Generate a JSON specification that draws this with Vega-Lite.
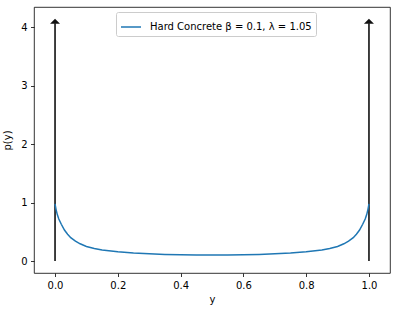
{
  "$schema": "https://vega.github.io/schema/vega-lite/v6.json",
  "width": 356,
  "height": 266,
  "autosize": {"type": "none"},
  "padding": {"left": 34, "top": 7, "right": 8, "bottom": 38},
  "config": {
    "font": "DejaVu Sans",
    "view": {"stroke": "black", "strokeWidth": 0.8},
    "axis": {
      "domain": false,
      "grid": false,
      "tickColor": "black",
      "tickWidth": 0.8,
      "tickSize": 3.5,
      "labelFont": "DejaVu Sans",
      "labelFontSize": 10,
      "labelColor": "black",
      "labelPadding": 3.5,
      "titleFont": "DejaVu Sans",
      "titleFontSize": 10,
      "titleFontWeight": "normal",
      "titleColor": "black"
    }
  },
  "datasets": {
    "curve": [
      {"y": 0.0, "p": 0.98, "series": "Hard Concrete β = 0.1, λ = 1.05"},
      {"y": 0.003, "p": 0.89, "series": "Hard Concrete β = 0.1, λ = 1.05"},
      {"y": 0.007, "p": 0.80, "series": "Hard Concrete β = 0.1, λ = 1.05"},
      {"y": 0.012, "p": 0.72, "series": "Hard Concrete β = 0.1, λ = 1.05"},
      {"y": 0.02, "p": 0.63, "series": "Hard Concrete β = 0.1, λ = 1.05"},
      {"y": 0.03, "p": 0.53, "series": "Hard Concrete β = 0.1, λ = 1.05"},
      {"y": 0.04, "p": 0.46, "series": "Hard Concrete β = 0.1, λ = 1.05"},
      {"y": 0.05, "p": 0.40, "series": "Hard Concrete β = 0.1, λ = 1.05"},
      {"y": 0.065, "p": 0.34, "series": "Hard Concrete β = 0.1, λ = 1.05"},
      {"y": 0.08, "p": 0.295, "series": "Hard Concrete β = 0.1, λ = 1.05"},
      {"y": 0.1, "p": 0.25, "series": "Hard Concrete β = 0.1, λ = 1.05"},
      {"y": 0.125, "p": 0.215, "series": "Hard Concrete β = 0.1, λ = 1.05"},
      {"y": 0.15, "p": 0.19, "series": "Hard Concrete β = 0.1, λ = 1.05"},
      {"y": 0.2, "p": 0.157, "series": "Hard Concrete β = 0.1, λ = 1.05"},
      {"y": 0.25, "p": 0.137, "series": "Hard Concrete β = 0.1, λ = 1.05"},
      {"y": 0.3, "p": 0.123, "series": "Hard Concrete β = 0.1, λ = 1.05"},
      {"y": 0.35, "p": 0.113, "series": "Hard Concrete β = 0.1, λ = 1.05"},
      {"y": 0.4, "p": 0.107, "series": "Hard Concrete β = 0.1, λ = 1.05"},
      {"y": 0.45, "p": 0.103, "series": "Hard Concrete β = 0.1, λ = 1.05"},
      {"y": 0.5, "p": 0.102, "series": "Hard Concrete β = 0.1, λ = 1.05"},
      {"y": 0.55, "p": 0.103, "series": "Hard Concrete β = 0.1, λ = 1.05"},
      {"y": 0.6, "p": 0.107, "series": "Hard Concrete β = 0.1, λ = 1.05"},
      {"y": 0.65, "p": 0.113, "series": "Hard Concrete β = 0.1, λ = 1.05"},
      {"y": 0.7, "p": 0.123, "series": "Hard Concrete β = 0.1, λ = 1.05"},
      {"y": 0.75, "p": 0.137, "series": "Hard Concrete β = 0.1, λ = 1.05"},
      {"y": 0.8, "p": 0.157, "series": "Hard Concrete β = 0.1, λ = 1.05"},
      {"y": 0.85, "p": 0.19, "series": "Hard Concrete β = 0.1, λ = 1.05"},
      {"y": 0.875, "p": 0.215, "series": "Hard Concrete β = 0.1, λ = 1.05"},
      {"y": 0.9, "p": 0.25, "series": "Hard Concrete β = 0.1, λ = 1.05"},
      {"y": 0.92, "p": 0.295, "series": "Hard Concrete β = 0.1, λ = 1.05"},
      {"y": 0.935, "p": 0.34, "series": "Hard Concrete β = 0.1, λ = 1.05"},
      {"y": 0.95, "p": 0.40, "series": "Hard Concrete β = 0.1, λ = 1.05"},
      {"y": 0.96, "p": 0.46, "series": "Hard Concrete β = 0.1, λ = 1.05"},
      {"y": 0.97, "p": 0.53, "series": "Hard Concrete β = 0.1, λ = 1.05"},
      {"y": 0.98, "p": 0.63, "series": "Hard Concrete β = 0.1, λ = 1.05"},
      {"y": 0.988, "p": 0.72, "series": "Hard Concrete β = 0.1, λ = 1.05"},
      {"y": 0.993, "p": 0.80, "series": "Hard Concrete β = 0.1, λ = 1.05"},
      {"y": 0.997, "p": 0.89, "series": "Hard Concrete β = 0.1, λ = 1.05"},
      {"y": 1.0, "p": 0.98, "series": "Hard Concrete β = 0.1, λ = 1.05"}
    ],
    "arrows": [
      {"y": 0.0, "base": 0.0, "top": 4.07, "head": 4.105},
      {"y": 1.0, "base": 0.0, "top": 4.07, "head": 4.105}
    ]
  },
  "layer": [
    {
      "data": {"name": "arrows"},
      "mark": {"type": "rule", "color": "black", "strokeWidth": 1.5},
      "encoding": {
        "x": {"field": "y", "type": "quantitative", "scale": {"domain": [-0.067, 1.067], "nice": false, "zero": false},
              "axis": {"values": [0, 0.2, 0.4, 0.6, 0.8, 1.0], "format": ".1f", "title": "y", "titlePadding": 4}},
        "y": {"field": "base", "type": "quantitative", "scale": {"domain": [-0.205, 4.35], "nice": false, "zero": false},
              "axis": {"values": [0, 1, 2, 3, 4], "format": "d", "title": "p(y)", "titlePadding": 8}},
        "y2": {"field": "top"}
      }
    },
    {
      "data": {"name": "arrows"},
      "mark": {"type": "point", "shape": "M-1,0.5L0,-0.5L1,0.5Z", "size": 100, "filled": true, "color": "#111111", "opacity": 1},
      "encoding": {
        "x": {"field": "y", "type": "quantitative"},
        "y": {"field": "head", "type": "quantitative"}
      }
    },
    {
      "data": {"name": "curve"},
      "mark": {"type": "line", "strokeWidth": 1.5},
      "encoding": {
        "x": {"field": "y", "type": "quantitative"},
        "y": {"field": "p", "type": "quantitative"},
        "color": {
          "field": "series", "type": "nominal",
          "scale": {"domain": ["Hard Concrete β = 0.1, λ = 1.05"], "range": ["#1f77b4"]},
          "legend": {
            "title": null,
            "orient": "none",
            "legendX": 82,
            "legendY": 5,
            "symbolType": "stroke",
            "symbolSize": 400,
            "symbolStrokeWidth": 1.5,
            "labelFont": "DejaVu Sans",
            "labelFontSize": 10,
            "labelColor": "black",
            "labelOffset": 8,
            "labelLimit": 0,
            "padding": 4,
            "strokeColor": "#cccccc",
            "fillColor": "white",
            "cornerRadius": 2
          }
        }
      }
    }
  ]
}
